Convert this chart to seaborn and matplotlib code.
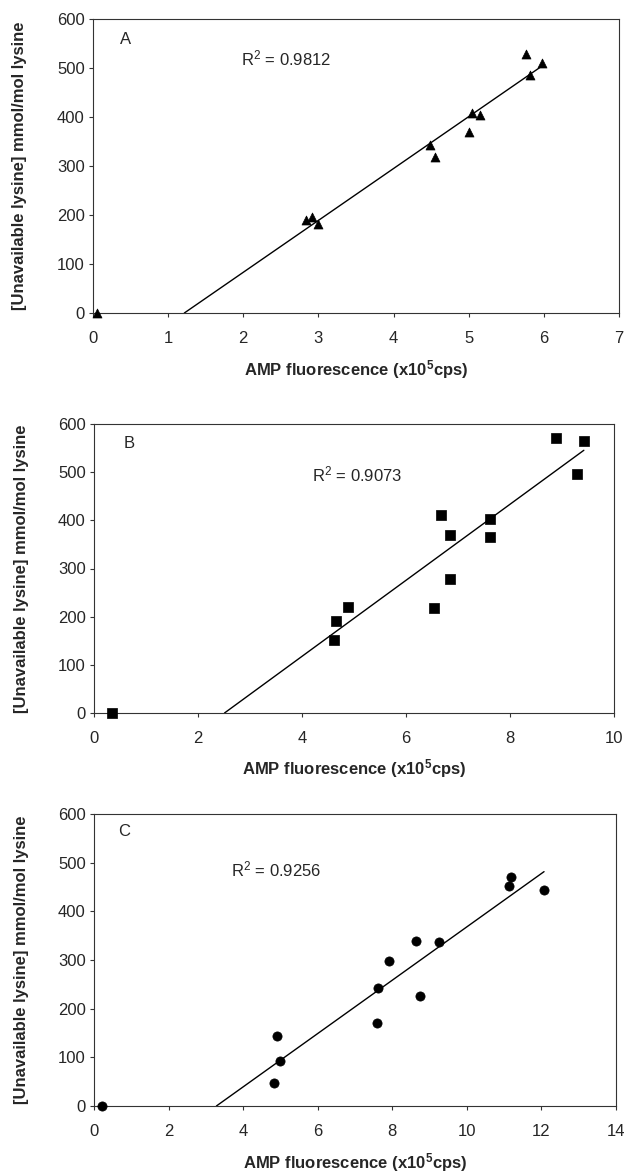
import numpy as np
import pandas as pd
import matplotlib
matplotlib.use("Agg")
import matplotlib.pyplot as plt
import seaborn as sns

# values (x in 10^5 cps, y in mmol/mol lysine)
amp_a = [0.05, 2.83, 2.92, 3.00, 4.48, 4.55, 5.00, 5.04, 5.15, 5.76, 5.81, 5.97]
lys_a = [0, 190, 196, 181, 342, 318, 370, 408, 404, 528, 485, 511]

amp_b = [0.35, 4.62, 4.65, 4.89, 6.53, 6.68, 6.84, 6.84, 7.61, 7.61, 8.88, 9.29, 9.42]
lys_b = [0, 152, 192, 220, 218, 412, 369, 279, 403, 366, 571, 496, 564]

amp_c = [0.22, 4.82, 4.92, 5.00, 7.59, 7.63, 7.92, 8.64, 8.75, 9.24, 11.14, 11.18, 12.07]
lys_c = [0, 47, 143, 93, 170, 242, 297, 339, 226, 338, 453, 470, 443]

panel_letters = ["A", "B", "C"]
r2_labels = ["0.9812", "0.9073", "0.9256"]
x_maxes = [7, 10, 14]
x_steps = [1, 2, 2]
markers = ["^", "s", "o"]

sns.set_style("ticks")
plt.rcParams["font.family"] = ["Liberation Sans", "DejaVu Sans"]
plt.rcParams["mathtext.fontset"] = "custom"
plt.rcParams["mathtext.rm"] = "Liberation Sans"
plt.rcParams["mathtext.bf"] = "Liberation Sans:bold"
plt.rcParams["mathtext.default"] = "rm"

W, H = 626, 1172
fig = plt.figure(figsize=(W / 100, H / 100), dpi=100)

# axes boxes in pixels: left, right, top, bottom
boxes = [(93, 619, 19, 313), (94, 614, 424, 713), (94, 616, 814, 1106)]
letter_pos = [(0.051, 0.929), (0.057, 0.934), (0.047, 0.94)]
r2_pos = [(0.281, 0.866), (0.42, 0.827), (0.263, 0.811)]
sizes = [42, 48, 44]

datasets = [(amp_a, lys_a), (amp_b, lys_b), (amp_c, lys_c)]

for i, (xs, ys) in enumerate(datasets):
    l, r, t, b = boxes[i]
    ax = fig.add_axes([l / W, 1 - b / H, (r - l) / W, (b - t) / H])
    df = pd.DataFrame({"amp": xs, "lys": ys})

    sns.scatterplot(data=df, x="amp", y="lys", marker=markers[i], color="black",
                    s=sizes[i], edgecolor="black", linewidth=0.5, ax=ax,
                    clip_on=False, zorder=3)

    # linear trendline fitted on the non-zero samples
    fit = df[df["lys"] > 0]
    m, c = np.polyfit(fit["amp"], fit["lys"], 1)
    x_line = np.array([-c / m, fit["amp"].max()])
    ax.plot(x_line, m * x_line + c, color="black", lw=1.0)

    ax.set_xlim(0, x_maxes[i])
    ax.set_ylim(0, 600)
    ax.set_xticks(np.arange(0, x_maxes[i] + 1, x_steps[i]))
    ax.set_yticks(np.arange(0, 601, 100))
    ax.tick_params(axis="both", labelsize=12, length=3, width=0.8, color="#333333")
    ax.tick_params(axis="x", pad=10)
    ax.tick_params(axis="y", pad=3)
    for sp in ax.spines.values():
        sp.set_visible(True)
        sp.set_linewidth(0.8)
        sp.set_color("#333333")

    ax.set_xlabel(r"AMP fluorescence (x10$^{\mathbf{5}}$cps)", fontsize=12,
                  fontweight="bold", va="center")
    ax.set_ylabel("[Unavailable lysine] mmol/mol lysine", fontsize=12,
                  fontweight="bold", va="center")
    ax.xaxis.set_label_coords(0.5, -0.193)
    ax.yaxis.set_label_coords(-0.139, 0.5)

    ax.text(*letter_pos[i], panel_letters[i], transform=ax.transAxes,
            fontsize=12, va="center", ha="left")
    ax.text(*r2_pos[i], "R$^2$ = " + r2_labels[i], transform=ax.transAxes,
            fontsize=12, va="center", ha="left")

fig.savefig("out.png", dpi=100)
